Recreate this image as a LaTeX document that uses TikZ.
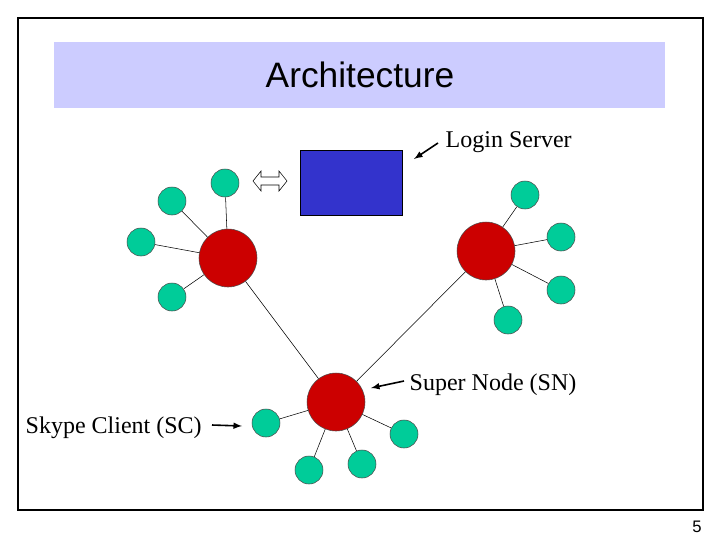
\documentclass[tikz,border=0pt]{standalone}
\usepackage{fontspec}
\setmainfont{Liberation Serif}
\setsansfont{Liberation Sans}
\usetikzlibrary{arrows}
\definecolor{band}{RGB}{204,204,255}
\definecolor{server}{RGB}{51,51,204}
\definecolor{snred}{RGB}{204,0,0}
\definecolor{scgreen}{RGB}{0,204,153}
\tikzset{
  sn/.style={circle,draw=black!70,fill=snred,minimum size=58pt*0.75,inner sep=0pt},
  sc/.style={circle,draw=black!70,fill=scgreen,minimum size=28pt*0.75,inner sep=0pt},
  lbl/.style={font=\fontsize{18}{20}\selectfont},
  pointer/.style={line width=1.2pt,-latex}
}
\begin{document}
\begin{tikzpicture}[x=0.75pt,y=-0.75pt]
\useasboundingbox (0,0) rectangle (720,540);
% frame and title
\draw[thick] (18,18) rectangle (703,510);
\fill[band] (54,42) rectangle (665,108);
\node[font=\sffamily\fontsize{26.5}{30}\selectfont] (title) at (360,75) {Architecture};
% login server
\draw[fill=server] (300,150) rectangle (402,215);
\draw (253,181) -- (261,171) -- (261,177) -- (279,177) -- (279,171) -- (287,181)
  -- (279,191) -- (279,185) -- (261,185) -- (261,191) -- cycle;
% super nodes
\node[sn] (snA) at (228,258) {};
\node[sn] (snB) at (486,251) {};
\node[sn] (snC) at (336,402) {};
% clients
\foreach \n/\x/\y in {a1/225/183,a2/172/201,a3/141/242,a4/172/297,
  b1/525/195,b2/561/237,b3/561/290,b4/508/320,
  c1/266/423,c2/309/470,c3/362/464,c4/404/434}
  \node[sc] (\n) at (\x,\y) {};
% links
\foreach \n in {a1,a2,a3,a4} \draw (snA) -- (\n);
\foreach \n in {b1,b2,b3,b4} \draw (snB) -- (\n);
\foreach \n in {c1,c2,c3,c4} \draw (snC) -- (\n);
\draw (snA) -- (snC);
\draw (snB) -- (snC);
% labels
\node[lbl,anchor=west] (login) at (441,142) {Login Server};
\node[lbl,anchor=west] (super) at (405,385) {Super Node (SN)};
\node[lbl,anchor=west] (client) at (21,428) {Skype Client (SC)};
\coordinate (loginEnd) at (414,159);
\coordinate (superEnd) at (371,388);
\coordinate (clientEnd) at (242,426);
\draw[pointer] (438,143) -- (loginEnd);
\draw[pointer] (404,381) -- (superEnd);
\draw[pointer] (212,425) -- (clientEnd);
\node[font=\sffamily\fontsize{12.5}{14}\selectfont] (page) at (697,527) {5};
\end{tikzpicture}
\end{document}
